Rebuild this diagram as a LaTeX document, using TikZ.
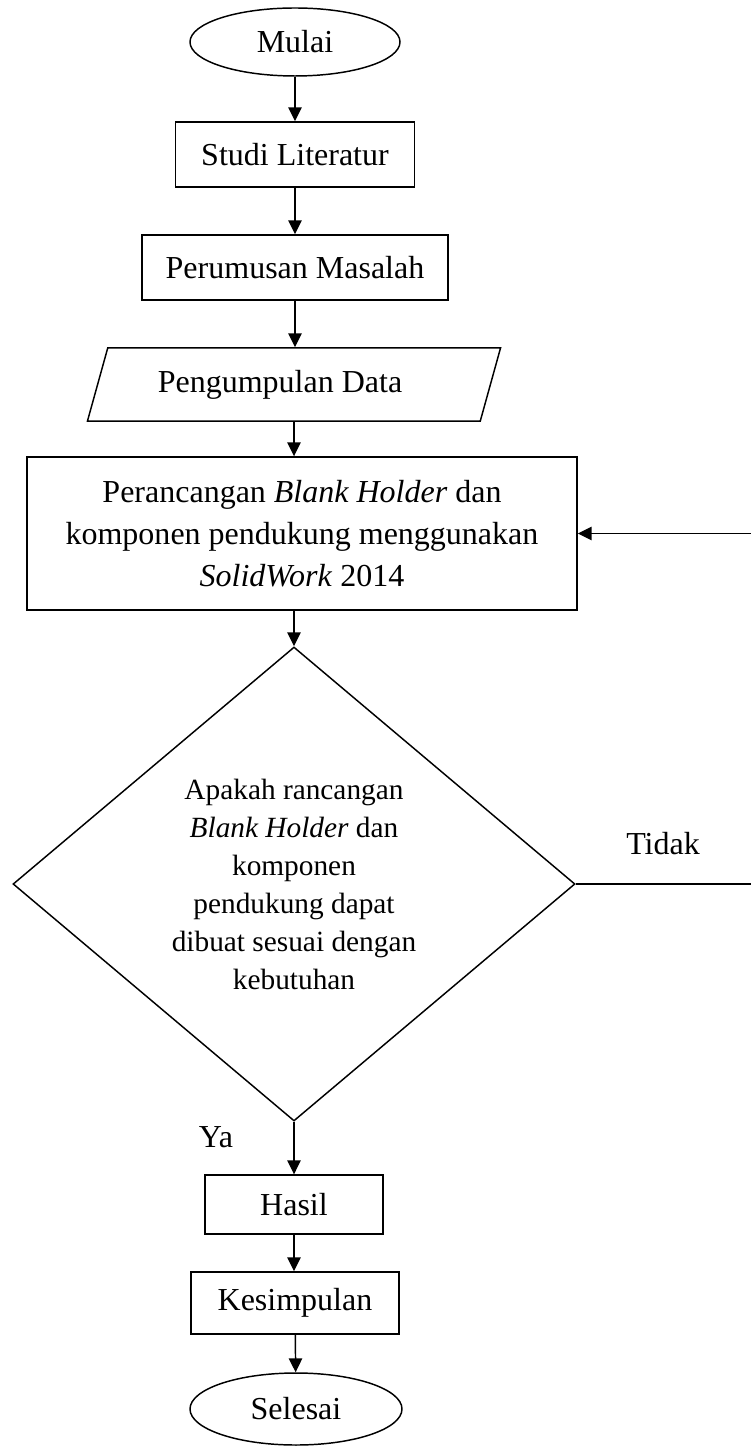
\documentclass[tikz,border=0pt]{standalone}
\usepackage{fontspec}
\setmainfont{Liberation Serif}
\usetikzlibrary{shapes.geometric, positioning, calc, arrows.meta}
\tikzset{every picture/.append style={line width=0.55pt}}
\tikzset{
  terminal/.style={draw, ellipse, minimum width=78.75pt, minimum height=25.5pt, inner sep=0pt},
  proses/.style={draw, rectangle, minimum height=24.4pt, inner sep=2pt, align=center},
  inout/.style={draw, trapezium, trapezium left angle=63, trapezium right angle=117,
    trapezium stretches body, minimum width=154.9pt, minimum height=27.4pt, inner sep=2pt},
  keputusan/.style={draw, diamond, minimum width=210.75pt, minimum height=177.75pt,
    inner sep=0pt, align=center, font=\fontsize{11}{14.25}\selectfont},
  panah/.style={-{Triangle[length=5.2pt,width=5pt]}},
}

\begin{document}
\begin{tikzpicture}[x=0.375pt, y=-0.375pt, font=\fontsize{12}{15.75}\selectfont]
  \useasboundingbox (0,0) rectangle (750,1446);

  % Start and first steps
  \node[terminal] (mulai) at (295,42) {Mulai};
  \node[proses, minimum width=89.6pt] (studi) at (295,154.5) {Studi Literatur};
  \node[proses, minimum width=114.75pt] (rumusan) at (295,267.5) {Perumusan Masalah};
  \node[inout] (data) at (294,384.5) {Pengumpulan Data\hspace*{10.5pt}};

  % Design step
  \node[proses, minimum width=206.25pt, minimum height=57.4pt] (rancang) at (302,533.5)
    {Perancangan \textit{Blank Holder} dan\\komponen pendukung menggunakan\\\textit{SolidWork} 2014};

  % Decision
  \node[keputusan] (cek) at (294,884)
    {Apakah rancangan\\\textit{Blank Holder} dan\\komponen\\pendukung dapat\\dibuat sesuai dengan\\kebutuhan};

  % Last steps
  \node[proses, minimum width=66.75pt, minimum height=22.1pt] (hasil) at (294,1204.5) {Hasil};
  \node[proses, minimum width=78pt, minimum height=23.25pt] (simpul) at (295,1303) {Kesimpulan};
  \node[terminal, minimum width=79.5pt, minimum height=27pt] (selesai) at (296,1409) {Selesai};

  % Labels of the branches
  \node (ya) at (216,1137) {Ya};
  \node (tidak) at (663,844) {Tidak};

  % Arrows
  \draw[panah] (mulai) -- (studi);
  \draw[panah] (studi) -- (rumusan);
  \draw[panah] (rumusan) -- (rumusan.south |- data.north);
  \draw[panah] (data.south) -- (data.south |- rancang.north);
  \draw[panah] (rancang.south -| cek.north) -- (cek.north);
  \draw[panah] (cek.south) -- (cek.south |- hasil.north);
  \draw[panah] (hasil) -- (simpul.north -| hasil.south);
  \draw[panah] (simpul) -- (selesai);

  % Back to the design step
  \coordinate (balik) at (800,884);
  \draw[panah] (cek.east) -- (balik) |- (rancang.east);
\end{tikzpicture}
\end{document}
